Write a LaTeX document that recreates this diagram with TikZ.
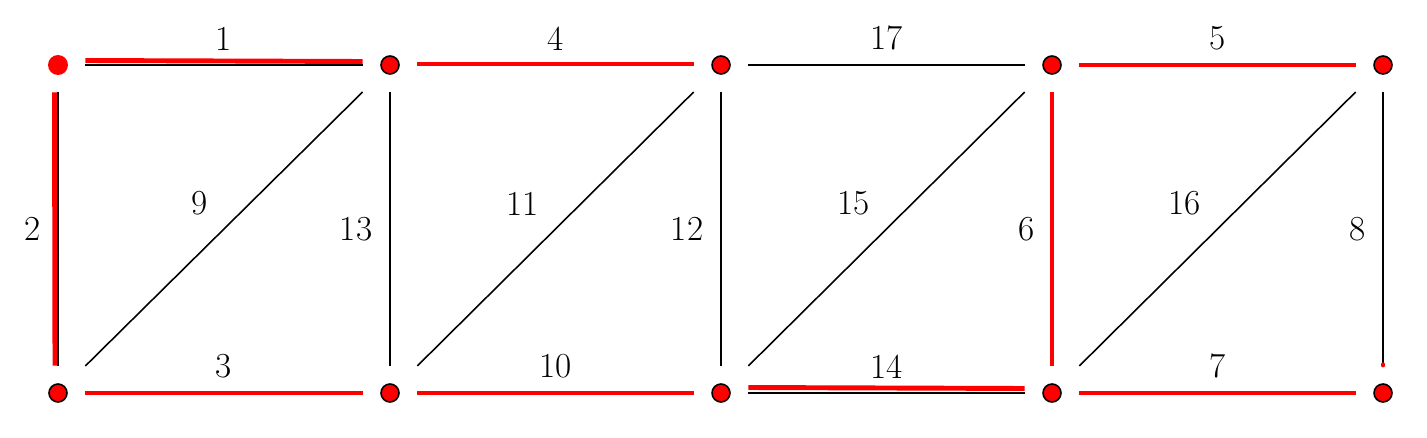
\documentclass[tikz,border=0pt]{standalone}
\usepackage{fontspec}
\usetikzlibrary{positioning}
\begin{document}
\begin{tikzpicture}[every node/.style={font=\fontsize{20}{24}\selectfont,inner sep=0pt},
  vtx/.style={rectangle,minimum size=1.08cm,path picture={\fill[red,draw=black,line width=.9pt](path picture bounding box.center)circle(.18);}},
  vtx0/.style={rectangle,minimum size=1.08cm,path picture={\fill[red](path picture bounding box.center)circle(.2);}},
  edg/.style={line width=.9pt},
  hl/.style={red,line width=2.8pt}]
\useasboundingbox(0,0)rectangle(28.54,8.74);
% top and bottom rows
\node[vtx0](t1)at(1.16,7.44){};
\node[vtx](t2)at(7.80,7.44){};
\node[vtx](t3)at(14.42,7.44){};
\node[vtx](t4)at(21.04,7.44){};
\node[vtx](t5)at(27.66,7.44){};
\node[vtx](b1)at(1.16,.88){};
\node[vtx](b2)at(7.80,.88){};
\node[vtx](b3)at(14.42,.88){};
\node[vtx](b4)at(21.04,.88){};
\node[vtx](b5)at(27.66,.88){};
% members
\draw[edg](t1)--(t2)node[midway,above=.28cm]{1};
\draw[edg](t1)--(b1)node[midway,left=.34cm]{2};
\draw[edg](b1)--(b2)node[midway,above=.28cm]{3};
\draw[edg](t2)--(t3)node[midway,above=.28cm]{4};
\draw[edg](t4)--(t5)node[midway,above=.28cm]{5};
\draw[edg](t4)--(b4)node[midway,left=.34cm]{6};
\draw[edg](b4)--(b5)node[midway,above=.28cm]{7};
\draw[edg](t5)--(b5)node[midway,left=.34cm]{8};
\draw[edg](b1)--(t2)node[midway,above left=.26cm and .32cm]{9};
\draw[edg](b2)--(b3)node[midway,above=.28cm]{10};
\draw[edg](b2)--(t3)node[midway,above left=.26cm and .32cm]{11};
\draw[edg](t3)--(b3)node[midway,left=.34cm]{12};
\draw[edg](t2)--(b2)node[midway,left=.34cm]{13};
\draw[edg](b3)--(b4)node[midway,above=.28cm]{14};
\draw[edg](b3)--(t4)node[midway,above left=.26cm and .32cm]{15};
\draw[edg](b4)--(t5)node[midway,above left=.26cm and .32cm]{16};
\draw[edg](t3)--(t4)node[midway,above=.28cm]{17};
% highlighted members
\draw[hl]([yshift=.09cm]t1.east)--([yshift=.07cm]t2.west);
\draw[hl]([xshift=-.07cm]t1.south)--([xshift=-.06cm]b1.north);
\draw[hl](b1.east)--(b2.west);
\draw[hl]([yshift=.02cm]t2.east)--([yshift=.02cm]t3.west);
\draw[hl](b2.east)--(b3.west);
\draw[hl]([yshift=.11cm]b3.east)--([yshift=.09cm]b4.west);
\draw[hl](t4.east)--(t5.west);
\draw[hl](t4.south)--(b4.north);
\draw[hl](b4.east)--(b5.west);
\draw[hl,line cap=round,line width=2pt](b5.north)--++(0,.03);
\end{tikzpicture}
\end{document}
